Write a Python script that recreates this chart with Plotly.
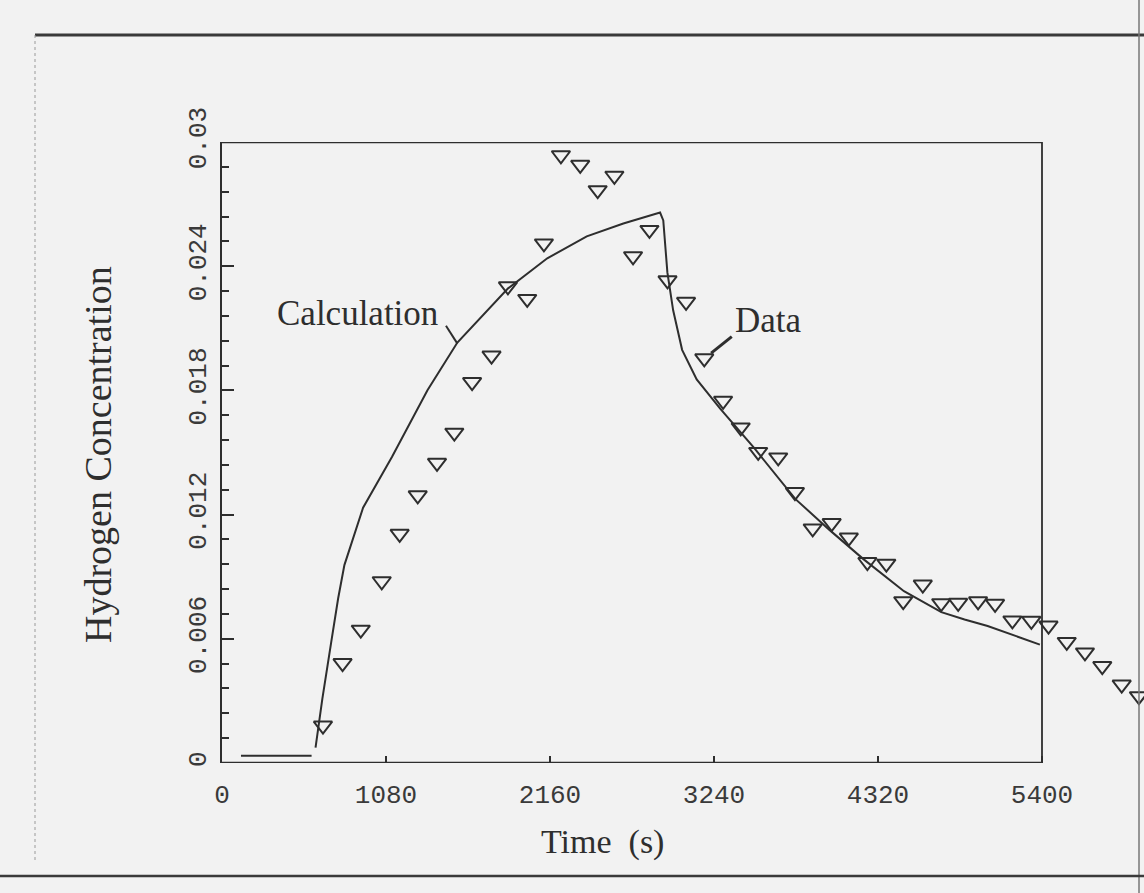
import plotly.graph_objects as go

# Measured hydrogen concentration (volume fraction) vs time
data_time = [665, 794, 914, 1052, 1170, 1289, 1416, 1530, 1647, 1775,
             1883, 2010, 2120, 2232, 2359, 2474, 2584, 2707, 2815, 2934,
             3056, 3176, 3300, 3416, 3531, 3663, 3773, 3890, 4015, 4128,
             4250, 4375, 4486, 4615, 4736, 4848, 4979, 5091, 5205, 5330,
             5443, 5563, 5683, 5797, 5925, 6038]
data_conc = [0.00181, 0.00483, 0.00644, 0.00878, 0.01107, 0.01293, 0.01450, 0.01596, 0.01840, 0.01968,
             0.02303, 0.02242, 0.02510, 0.02936, 0.02890, 0.02767, 0.02837, 0.02448, 0.02575, 0.02332,
             0.02228, 0.01955, 0.01750, 0.01621, 0.01503, 0.01476, 0.01309, 0.01133, 0.01159, 0.01089,
             0.00971, 0.00963, 0.00782, 0.00862, 0.00772, 0.00774, 0.00781, 0.00769, 0.00689, 0.00687,
             0.00664, 0.00585, 0.00534, 0.00468, 0.00379, 0.00323]

# Calculated hydrogen concentration
calc_time = [125, 590, None, 616, 661, 719, 765, 806, 929, 1119, 1353, 1550, 1884, 2142, 2402,
             2643, 2885, 2906, 2933, 2971, 3030, 3126, 3282, 3504, 3775, 4002, 4224, 4491,
             4737, 4890, 5042, 5386]
calc_conc = [0.00035, 0.00035, None, 0.00074, 0.00311, 0.00583, 0.00796, 0.00956, 0.01233, 0.01478,
             0.01801, 0.02031, 0.02293, 0.02438, 0.02544, 0.02606, 0.02659, 0.02621, 0.02370,
             0.02187, 0.01996, 0.01853, 0.01711, 0.01522, 0.01276, 0.01125, 0.00985, 0.00830,
             0.00729, 0.00693, 0.00662, 0.00572]

x_ticks = [0, 1080, 2160, 3240, 4320, 5400]
x_tick_text = ["0", "1080", "2160", "3240", "4320", "5400"]
y_ticks = [0, 0.006, 0.012, 0.018, 0.024, 0.03]
y_tick_text = ["0", "0.006", "0.012", "0.018", "0.024", "0.03"]

X_END, Y_END = 5400, 0.03      # extent of the framed plotting box

W, H = 1144, 893
ML, MR, MT, MB = 222, 2, 142, 130
BOX_W = 820                     # pixel width of the framed box; data run on past it
PLOT_W = W - ML - MR
PLOT_H = H - MT - MB
X_MAX = X_END * PLOT_W / BOX_W

INK = "#2e2e2e"
PAPER = "#f2f2f2"


def paper_x(px):
    return (px - ML) / PLOT_W


def paper_y(py):
    return (H - MB - py) / PLOT_H


fig = go.Figure()

fig.add_trace(go.Scatter(
    x=calc_time, y=calc_conc, mode="lines", connectgaps=False,
    line=dict(color=INK, width=2), showlegend=False, hoverinfo="skip"))

fig.add_trace(go.Scatter(
    x=data_time, y=data_conc, mode="markers", cliponaxis=False,
    marker=dict(symbol="triangle-down-open", size=16, color=INK,
                line=dict(width=2, color=INK)),
    showlegend=False))

serif = "Liberation Serif"
mono = "Liberation Mono"

annotations = [
    dict(text="Calculation", x=895, y=0.0217, xref="x", yref="y", showarrow=False,
         xanchor="center", yanchor="middle",
         font=dict(family=serif, size=35, color=INK)),
    dict(text="Data", x=3598, y=0.02136, xref="x", yref="y", showarrow=False,
         xanchor="center", yanchor="middle",
         font=dict(family=serif, size=35, color=INK)),
    dict(text="Time  (s)", x=paper_x(602), y=paper_y(842), xref="paper", yref="paper",
         xanchor="center", yanchor="middle",
         showarrow=False, font=dict(family=serif, size=34, color=INK)),
    dict(text="Hydrogen Concentration", x=paper_x(98), y=paper_y(455), xref="paper",
         yref="paper", textangle=-90, showarrow=False, xanchor="center", yanchor="middle",
         font=dict(family=serif, size=38, color=INK)),
]

shapes = [
    # framed plotting box (top, bottom, right)
    dict(type="line", xref="x", yref="y", x0=0, y0=Y_END, x1=X_END, y1=Y_END,
         line=dict(color=INK, width=2.6)),
    dict(type="line", xref="x", yref="y", x0=0, y0=0, x1=X_END, y1=0,
         line=dict(color=INK, width=2.6)),
    dict(type="line", xref="x", yref="y", x0=X_END, y0=0, x1=X_END, y1=Y_END,
         line=dict(color=INK, width=1.8)),
    # leader lines for the curve labels
    dict(type="line", xref="x", yref="y", x0=1475, y0=0.02112, x1=1550, y1=0.02026,
         line=dict(color=INK, width=2)),
    dict(type="line", xref="x", yref="y", x0=3221, y0=0.0198, x1=3357, y1=0.0206,
         line=dict(color=INK, width=3)),
    # outer page frame
    dict(type="line", xref="paper", yref="paper", x0=paper_x(35), y0=paper_y(35),
         x1=paper_x(1144), y1=paper_y(35), line=dict(color="#3a3a3a", width=3)),
    dict(type="line", xref="paper", yref="paper", x0=paper_x(35), y0=paper_y(35),
         x1=paper_x(35), y1=paper_y(860), line=dict(color="#9a9a9a", width=1, dash="dot")),
    dict(type="line", xref="paper", yref="paper", x0=paper_x(1139), y0=paper_y(0),
         x1=paper_x(1139), y1=paper_y(893), line=dict(color="#777777", width=1.5)),
    dict(type="line", xref="paper", yref="paper", x0=paper_x(0), y0=paper_y(876),
         x1=paper_x(1144), y1=paper_y(876), line=dict(color="#3a3a3a", width=2.5)),
]

fig.update_layout(
    width=W, height=H,
    margin=dict(l=ML, r=MR, t=MT, b=MB),
    paper_bgcolor=PAPER, plot_bgcolor=PAPER,
    annotations=annotations, shapes=shapes,
    xaxis=dict(range=[0, X_MAX], tickmode="array", tickvals=x_ticks, ticktext=x_tick_text,
               ticks="inside", ticklen=7, tickwidth=1.5, tickcolor=INK,
               showline=False, showgrid=False, zeroline=False, ticklabelstandoff=13,
               tickfont=dict(family=mono, size=26, color="#3a3a3a")),
    yaxis=dict(range=[0, Y_END], tickmode="array", tickvals=y_ticks, ticktext=y_tick_text,
               tickangle=-90, ticks="inside", ticklen=12, tickwidth=2, tickcolor=INK,
               minor=dict(tickmode="linear", tick0=0, dtick=0.0012, ticks="inside",
                          ticklen=7, tickwidth=2, tickcolor=INK),
               showline=True, linewidth=1.8, linecolor=INK, mirror=False,
               showgrid=False, zeroline=False, ticklabelstandoff=4,
               tickfont=dict(family=mono, size=26, color="#3a3a3a")),
)

fig.write_html("out.html")
